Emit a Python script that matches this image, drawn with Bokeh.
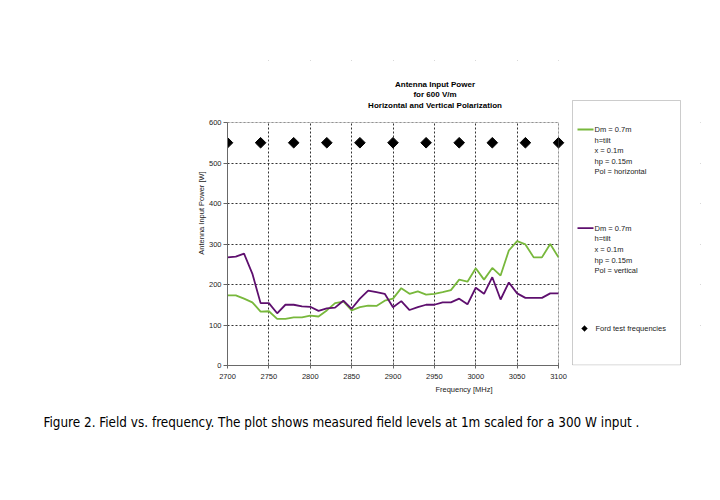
import numpy as np
from bokeh.plotting import figure
from bokeh.models import (Range1d, SingleIntervalTicker, Label, BoxAnnotation,
                          Arrow, PolyAnnotation, ColumnDataSource, Title)
from bokeh.embed import file_html
from bokeh.resources import INLINE

# ---------------- data ----------------
freq = [2700, 2710, 2720, 2730, 2740, 2750, 2760, 2770, 2780, 2790,
        2800, 2810, 2820, 2830, 2840, 2850, 2860, 2870, 2880, 2890,
        2900, 2910, 2920, 2930, 2940, 2950, 2960, 2970, 2980, 2990,
        3000, 3010, 3020, 3030, 3040, 3050, 3060, 3070, 3080, 3090, 3100]
power_horizontal = [173, 173, 165, 156, 133, 134, 115, 115, 119, 119,
                    123, 121, 136, 154, 158, 136, 144, 148, 147, 160,
                    165, 191, 177, 183, 175, 177, 181, 186, 212, 207,
                    240, 212, 241, 222, 284, 307, 299, 267, 267, 300, 267]
power_vertical = [267, 269, 276, 227, 154, 154, 129, 150, 150, 146,
                  145, 135, 141, 143, 160, 140, 165, 185, 181, 177,
                  144, 159, 137, 144, 150, 150, 156, 156, 165, 151,
                  192, 177, 218, 163, 205, 178, 167, 167, 167, 178, 178]
ford_freq = [2700, 2740, 2780, 2820, 2860, 2900, 2940, 2980, 3020, 3060, 3100]
ford_level = [550] * len(ford_freq)

title_lines = ["Antenna Input Power", "for 600 V/m",
               "Horizontal and Vertical Polarization"]
legend_horizontal = ["Dm =  0.7m", "h=tilt", "x = 0.1m", "hp = 0.15m",
                     "Pol =  horizontal"]
legend_vertical = ["Dm =  0.7m", "h=tilt", "x = 0.1m", "hp = 0.15m",
                   "Pol =  vertical"]
legend_ford = "Ford test frequencies"
x_title = "Frequency [MHz]"
y_title = "Antenna Input Power [W]"
caption = ("Figure 2.  Field vs. frequency.  The plot shows measured field "
           "levels at  1m scaled for a 300 W input .")

GREEN = "#78b83c"
PURPLE = "#5e0f6e"
FONT = "Liberation Sans"
NARROW = "'Liberation Sans Narrow', 'DejaVu Sans Condensed', sans-serif"

# ---------------- layout (page pixels) ----------------
# plot area of the chart, and the wider drawing frame that holds title/legend
PL, PR, PT, PB = 227, 558, 122, 365
X0, X1, Y0, Y1 = 2700, 3100, 0, 600
FR_RIGHT, FR_TOP = 700, 60


def X(px):
    return X0 + (px - PL) * (X1 - X0) / (PR - PL)


def Y(py):
    return Y0 + (PB - py) * (Y1 - Y0) / (PB - PT)


W, H = 704, 484
p = figure(width=W, height=H,
           x_range=Range1d(X0, X(FR_RIGHT)), y_range=Range1d(Y0, Y(FR_TOP)),
           output_backend="svg", toolbar_location=None, title=None,
           min_border_left=PL, min_border_right=W - FR_RIGHT,
           min_border_top=FR_TOP, min_border_bottom=H - PB)
p.background_fill_color = "white"
p.border_fill_color = "white"
p.outline_line_color = None

# axes
for ax in (p.xaxis, p.yaxis):
    ax.axis_line_color = "#666666"
    ax.major_tick_line_color = "#666666"
    ax.minor_tick_line_color = None
    ax.major_label_text_font = FONT
    ax.major_label_text_font_size = "7.5px"
    ax.major_label_text_color = "#222222"
    ax.axis_label_text_font = FONT
    ax.axis_label_text_font_size = "7.5px"
    ax.axis_label_text_font_style = "normal"
    ax.axis_label_text_color = "#222222"
p.xaxis.ticker = SingleIntervalTicker(interval=50)
p.yaxis.ticker = SingleIntervalTicker(interval=100)
p.xaxis.bounds = (X0, X1)
p.yaxis.bounds = (Y0, Y1)
p.xaxis.major_tick_in = 3
p.xaxis.major_tick_out = 3
p.yaxis.major_tick_in = 0
p.yaxis.major_tick_out = 4
p.xaxis.major_label_standoff = 4
p.yaxis.major_label_standoff = 2
p.xaxis.axis_label = x_title
p.yaxis.axis_label = y_title
p.xaxis.axis_label_standoff = 3
p.yaxis.axis_label_standoff = 0

# grid (dotted), masked outside the plot area
for g in (p.xgrid, p.ygrid):
    g.grid_line_color = "#333333"
    g.grid_line_dash = "2 2"
    g.grid_line_width = 1
p.xgrid.ticker = SingleIntervalTicker(interval=50)
p.ygrid.ticker = SingleIntervalTicker(interval=100)
p.add_layout(BoxAnnotation(left=X1, level="underlay", fill_color="white",
                           fill_alpha=1, line_alpha=0))
p.add_layout(BoxAnnotation(bottom=Y1, level="underlay", fill_color="white",
                           fill_alpha=1, line_alpha=0))

# series
src = ColumnDataSource(dict(freq=freq, h=power_horizontal, v=power_vertical))
p.line("freq", "h", source=src, line_color=GREEN, line_width=1.8)
p.line("freq", "v", source=src, line_color=PURPLE, line_width=1.8)
p.scatter(ford_freq, ford_level, marker="square", angle=np.pi / 4, size=7.5,
          fill_color="black", line_color="black")

# plot area border
p.add_layout(BoxAnnotation(left=X0, right=X1, bottom=Y0, top=Y1, fill_alpha=0,
                           line_color="#808080", line_width=1))

# title
for i, t in enumerate(title_lines):
    p.add_layout(Label(x=X(434.5), y=Y(84 + 10.3 * i), text=t,
                       text_align="center", text_baseline="middle",
                       text_font=FONT, text_font_size="8px",
                       text_font_style="bold", text_color="black"))

# legend
p.add_layout(BoxAnnotation(left=X(572), right=X(680), top=Y(100), bottom=Y(364.5),
                           fill_alpha=0, line_color="#555555", line_width=1))
for lines, color, y0 in ((legend_horizontal, GREEN, 129), (legend_vertical, PURPLE, 227.7)):
    p.add_layout(Arrow(x_start=X(577), y_start=Y(y0), x_end=X(593), y_end=Y(y0),
                       end=None, line_color=color, line_width=1.8))
    for i, t in enumerate(lines):
        p.add_layout(Label(x=X(594), y=Y(y0 + 10.6 * i), text=t,
                           text_align="left", text_baseline="middle",
                           text_font=FONT, text_font_size="7.5px",
                           text_color="#222222"))
cx, cy, r = 584, 328, 3
p.add_layout(PolyAnnotation(xs=[X(cx - r), X(cx), X(cx + r), X(cx)],
                            ys=[Y(cy), Y(cy - r), Y(cy), Y(cy + r)],
                            fill_color="black", fill_alpha=1, line_color="black"))
p.add_layout(Label(x=X(595), y=Y(328), text=legend_ford,
                   text_align="left", text_baseline="middle",
                   text_font=FONT, text_font_size="7.5px",
                   text_color="#222222"))

# caption below the chart
p.add_layout(Title(text=caption, align="left", offset=43 - PL,
                   text_font=NARROW, text_font_size="13.4px",
                   text_font_style="normal", text_color="black",
                   standoff=33), "below")

open("out.html", "w").write(file_html(p, INLINE))
